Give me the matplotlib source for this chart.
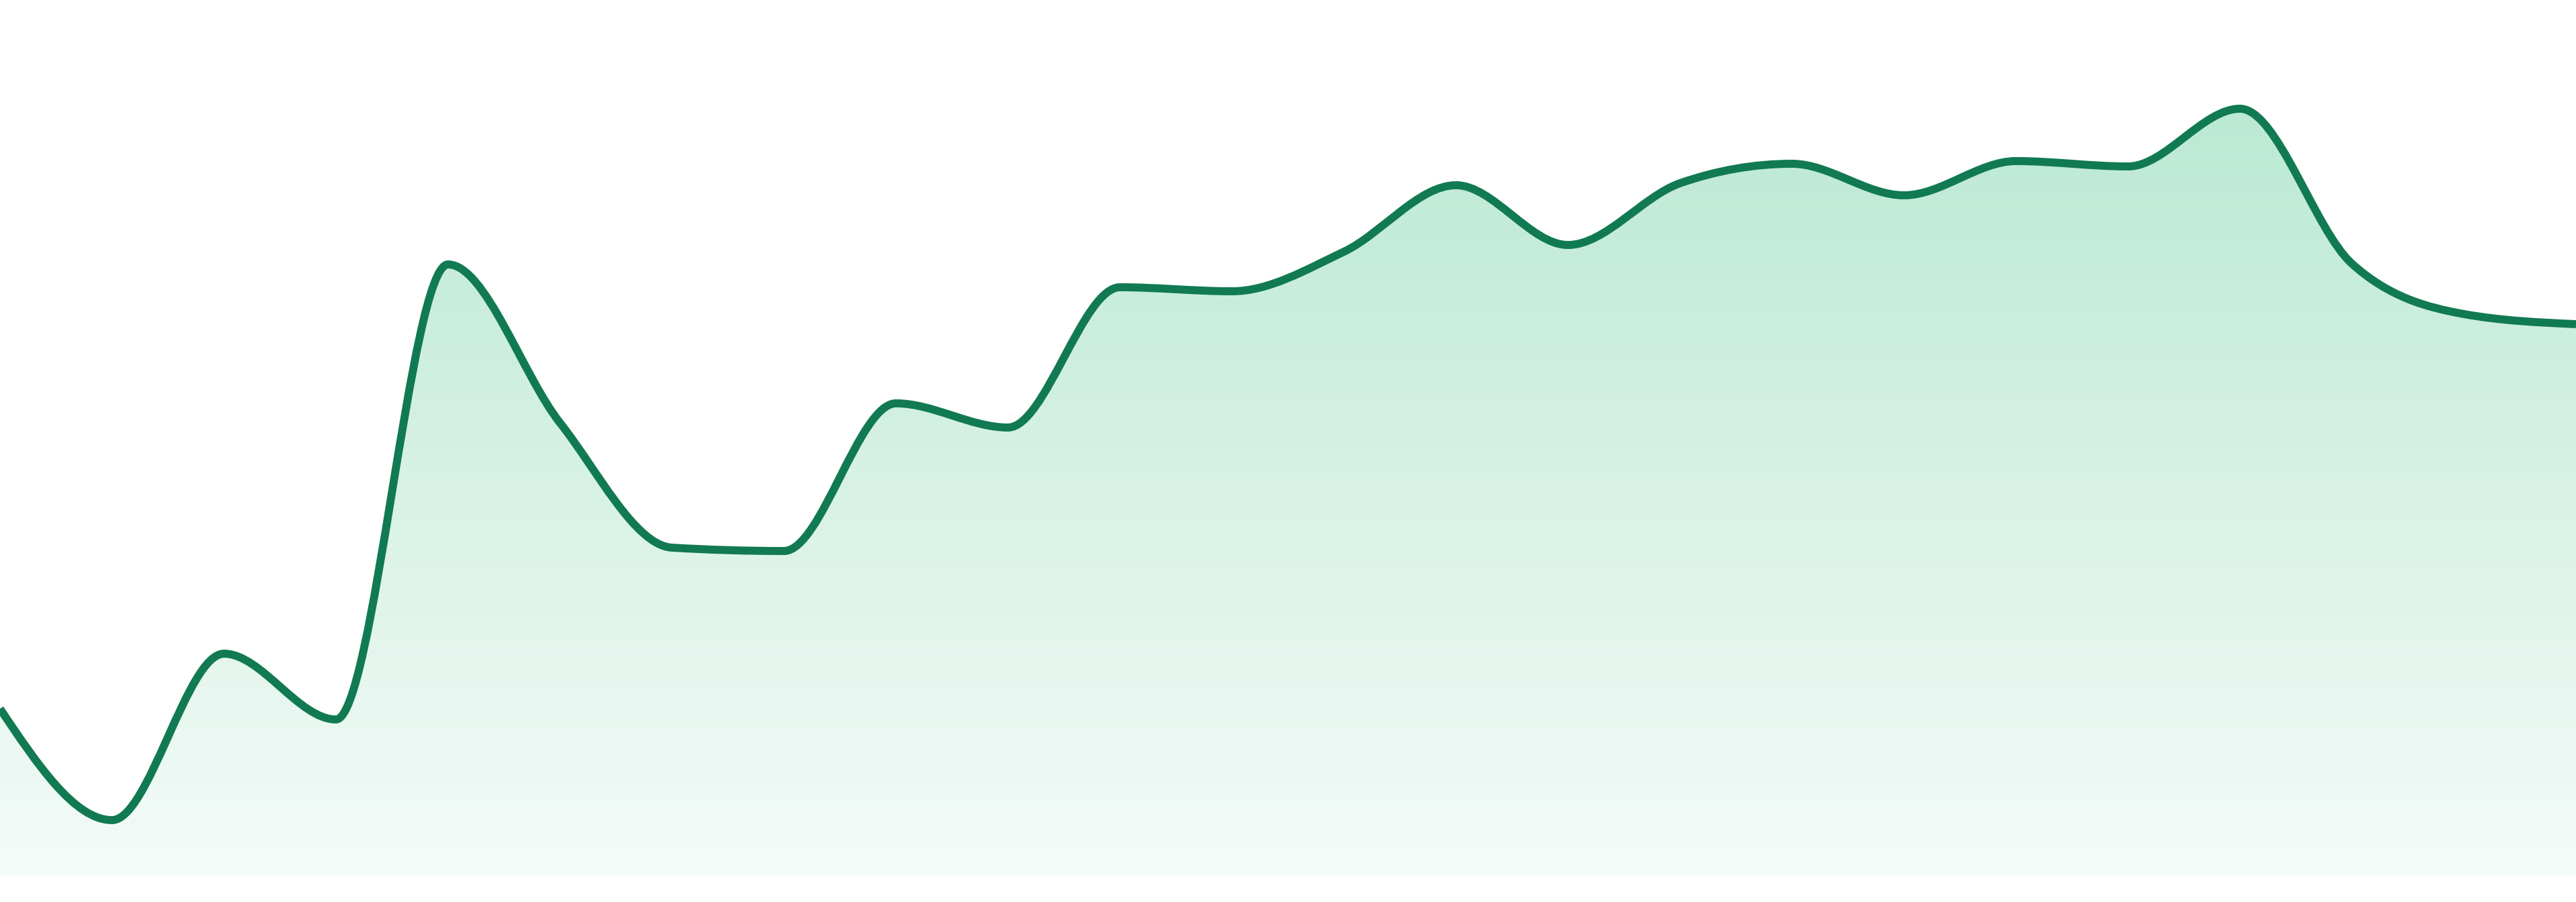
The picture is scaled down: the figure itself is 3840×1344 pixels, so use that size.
import numpy as np
import matplotlib.pyplot as plt
from matplotlib.path import Path
from matplotlib.patches import PathPatch
from matplotlib.colors import LinearSegmentedColormap

# values (arbitrary units, baseline = 0)
values = [24.9, 8.3, 33.1, 23.3, 91.1, 67.5, 48.9, 48.4, 70.4, 66.8, 87.7, 87.1,
          93.0, 102.9, 94.0, 103.2, 106.1, 101.4, 106.5, 105.7, 114.3, 91.2, 83.7, 82.2]
x = np.arange(len(values), dtype=float)
y = np.array(values, dtype=float)

line_color = '#117a52'
fill_top = '#bbe9d4'
fill_bottom = '#f5fbf9'


# d3 curveMonotoneX tangents
def monotone_tangents(x, y):
    n = len(x)
    t = np.zeros(n)
    for i in range(1, n - 1):
        h0 = x[i] - x[i - 1]
        h1 = x[i + 1] - x[i]
        s0 = (y[i] - y[i - 1]) / h0
        s1 = (y[i + 1] - y[i]) / h1
        p = (s0 * h1 + s1 * h0) / (h0 + h1)
        t[i] = (np.sign(s0) + np.sign(s1)) * min(abs(s0), abs(s1), 0.5 * abs(p))
    h = x[1] - x[0]
    t[0] = (3 * (y[1] - y[0]) / h - t[1]) / 2
    h = x[-1] - x[-2]
    t[-1] = (3 * (y[-1] - y[-2]) / h - t[-2]) / 2
    return t


t = monotone_tangents(x, y)
verts = [(x[0], y[0])]
codes = [Path.MOVETO]
for i in range(len(x) - 1):
    dx = (x[i + 1] - x[i]) / 3
    verts += [(x[i] + dx, y[i] + dx * t[i]),
              (x[i + 1] - dx, y[i + 1] - dx * t[i + 1]),
              (x[i + 1], y[i + 1])]
    codes += [Path.CURVE4] * 3

area_verts = verts + [(x[-1], 0), (x[0], 0), (x[0], y[0])]
area_codes = codes + [Path.LINETO, Path.LINETO, Path.CLOSEPOLY]

fig = plt.figure(figsize=(38.4, 13.44), dpi=100)
ax = fig.add_axes([0, 39 / 1344, 1, 1305 / 1344])
ax.set_xlim(0, len(values) - 1)
ax.set_ylim(0, 130.5)
ax.axis('off')

# gradient fill clipped to the area under the curve
cmap = LinearSegmentedColormap.from_list('g', [fill_bottom, fill_top])
grad = np.linspace(0, 1, 256).reshape(-1, 1)
img = ax.imshow(grad, cmap=cmap, aspect='auto', origin='lower',
                extent=(0, len(values) - 1, 0, y.max()), zorder=1)
area = PathPatch(Path(area_verts, area_codes), facecolor='none', edgecolor='none')
ax.add_patch(area)
img.set_clip_path(area)

ax.add_patch(PathPatch(Path(verts, codes), facecolor='none', edgecolor=line_color,
                       lw=8.6, capstyle='butt', joinstyle='round', zorder=3))

fig.savefig('out.png', dpi=100, facecolor='white')
